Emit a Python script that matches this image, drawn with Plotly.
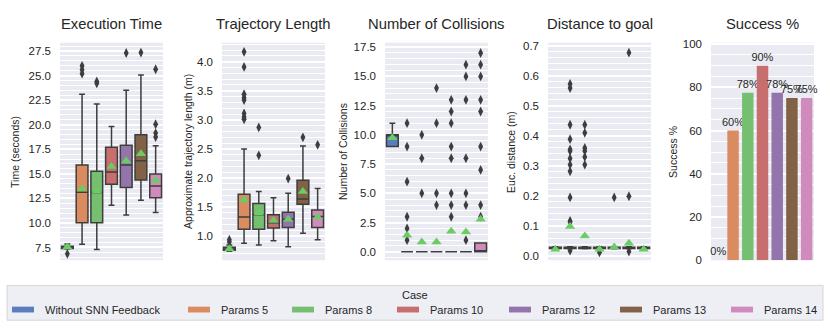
"""Boxplots des metriques par cas + barres de succes."""
import plotly.graph_objects as go
from plotly.subplots import make_subplots

W, H = 830, 332

CASES = ["Without SNN Feedback", "Params 5", "Params 8", "Params 10",
         "Params 12", "Params 13", "Params 14"]
COLORS = ["#597DBF", "#DA8B5F", "#76BF71", "#C76E6E",
          "#9475AB", "#826246", "#D08ABB"]
MEAN_COLOR = "#6ACC64"
LINE_COLOR = "#3D3D3D"
TEXT_COLOR = "#262626"
FONT = "Liberation Sans, Arial, sans-serif"

# Execution Time (s)
TIME_Q1 = [7.40, 10.02, 10.02, 13.94, 13.61, 14.36, 12.56]
TIME_MED = [7.50, 13.12, 13.10, 15.18, 15.90, 16.32, 13.77]
TIME_Q3 = [7.62, 15.90, 15.25, 17.70, 17.92, 18.97, 14.98]
TIME_LO = [7.35, 7.83, 7.30, 11.81, 10.80, 12.30, 11.06]
TIME_HI = [7.85, 23.09, 22.10, 19.82, 23.51, 25.05, 17.86]
TIME_MEAN = [7.55, 13.45, 13.28, 15.74, 16.30, 17.04, 14.33]
TIME_OUT = [[6.85], [25.2, 25.6, 26.0], [24.2, 24.4], [], [27.3], [27.35],
            [18.75, 19.15, 20.05, 25.65]]

# Trajectory length (m)
TRAJ_Q1 = [0.76, 1.12, 1.12, 1.14, 1.15, 1.55, 1.15]
TRAJ_MED = [0.78, 1.33, 1.37, 1.23, 1.29, 1.64, 1.34]
TRAJ_Q3 = [0.81, 1.72, 1.56, 1.37, 1.41, 1.96, 1.45]
TRAJ_LO = [0.74, 0.88, 0.85, 0.92, 0.82, 1.05, 0.94]
TRAJ_HI = [0.85, 2.50, 1.77, 1.66, 1.74, 2.55, 1.82]
TRAJ_MEAN = [0.78, 1.62, 1.40, 1.27, 1.29, 1.77, 1.33]
TRAJ_OUT = [[0.90, 0.94], [3.01, 3.05, 3.11, 3.34, 3.38, 3.44, 3.91, 4.17],
            [2.39, 2.87], [], [1.99], [2.70], [2.57]]

# Number of collisions
COLL_Q1 = [9.0, 0, 0, 0, 0, 0, 0]
COLL_MED = [10.0, 0, 0, 0, 0, 0, 0]
COLL_Q3 = [10.0, 0, 0, 0, 0, 0, 0.75]
COLL_LO = [9.0, 0, 0, 0, 0, 0, 0]
COLL_HI = [11.0, 0, 0, 0, 0, 0, 0.75]
COLL_MEAN = [9.75, 1.42, 0.85, 0.85, 1.77, 1.70, 2.79]
COLL_OUT = [[], [1, 2, 3, 6, 9, 11], [5, 8, 10], [4, 5, 11, 14],
            [3, 4, 5, 8, 9, 11, 12, 13], [1, 4, 5, 8, 13, 15, 16],
            [3, 4, 7, 9, 12, 13, 15, 16, 17]]

# Distance to goal (m)
DIST_Q1 = [0.025, 0.025, 0.025, 0.025, 0.025, 0.025, 0.025]
DIST_MED = [0.027, 0.027, 0.027, 0.027, 0.027, 0.027, 0.027]
DIST_Q3 = [0.029, 0.029, 0.029, 0.029, 0.029, 0.029, 0.029]
DIST_LO = [0.024, 0.024, 0.024, 0.024, 0.024, 0.024, 0.024]
DIST_HI = [0.031, 0.031, 0.031, 0.031, 0.031, 0.031, 0.031]
DIST_MEAN = [0.023, 0.098, 0.067, 0.023, 0.030, 0.043, 0.023]
DIST_OUT = [[], [0.018, 0.113, 0.117, 0.195, 0.282, 0.304, 0.325, 0.35,
                 0.355, 0.389, 0.437, 0.559, 0.573],
            [0.304, 0.33, 0.35, 0.36, 0.41, 0.437], [0.012], [0.195],
            [0.015, 0.199, 0.677], []]

# Success %
SUCCESS = [0, 60, 77.5, 90, 77.5, 75, 75]
SUCCESS_LABELS = ["0%", "60%", "78%", "90%", "78%", "75%", "75%"]

TITLES = ["Execution Time", "Trajectory Length", "Number of Collisions",
          "Distance to goal", "Success %"]
YLABELS = ["Time (seconds)", "Approximate trajectory length (m)",
           "Number of Collisions", "Euc. distance (m)", "Success %"]


def fx(px):
    return px / W


def fy(py):
    return 1 - py / H


fig = make_subplots(rows=1, cols=5)

box_panels = [
    (TIME_Q1, TIME_MED, TIME_Q3, TIME_LO, TIME_HI, TIME_MEAN, TIME_OUT),
    (TRAJ_Q1, TRAJ_MED, TRAJ_Q3, TRAJ_LO, TRAJ_HI, TRAJ_MEAN, TRAJ_OUT),
    (COLL_Q1, COLL_MED, COLL_Q3, COLL_LO, COLL_HI, COLL_MEAN, COLL_OUT),
    (DIST_Q1, DIST_MED, DIST_Q3, DIST_LO, DIST_HI, DIST_MEAN, DIST_OUT),
]

for col, (q1, med, q3, lo, hi, mean, out) in enumerate(box_panels, start=1):
    for i, case in enumerate(CASES):
        fig.add_trace(go.Box(
            x=[i], q1=[q1[i]], median=[med[i]], q3=[q3[i]],
            lowerfence=[lo[i]], upperfence=[hi[i]],
            width=0.8, whiskerwidth=0.5, boxpoints=False,
            fillcolor=COLORS[i], line=dict(color=LINE_COLOR, width=1.5),
            name=case, showlegend=False, hoverinfo="skip",
        ), row=1, col=col)
    ox, oy = [], []
    for i, vals in enumerate(out):
        ox += [i] * len(vals)
        oy += vals
    fig.add_trace(go.Scatter(
        x=ox, y=oy, mode="markers", showlegend=False,
        marker=dict(symbol="diamond-tall", size=7, color=LINE_COLOR),
    ), row=1, col=col)
    fig.add_trace(go.Scatter(
        x=list(range(len(CASES))), y=mean, mode="markers", showlegend=False,
        marker=dict(symbol="triangle-up", size=9, color=MEAN_COLOR),
    ), row=1, col=col)

fig.add_trace(go.Bar(
    x=list(range(len(CASES))), y=SUCCESS, width=0.78,
    marker=dict(color=COLORS, line=dict(width=0)),
    text=SUCCESS_LABELS, textposition="outside", constraintext="none",
    cliponaxis=False, textfont=dict(size=11, color=TEXT_COLOR),
    showlegend=False,
), row=1, col=5)

# positions des panneaux (px)
x_dom = [(60, 163), (222, 325), (385, 488), (548, 651), (711, 814)]
y_ranges = [[6.2, 28.35], [0.586, 4.326], [-0.72, 17.88], [-0.014, 0.71], [0, 100.6]]
dticks = [2.5, 0.5, 2.5, 0.1, 20]
minors = [0.5, 0.1, 0.5, 0.02, 5]
fmts = [".1f", ".1f", ".1f", ".1f", "d"]
ylab_x = [15, 188, 343, 511, 673]

for k in range(5):
    sfx = "" if k == 0 else str(k + 1)
    fig.layout["xaxis" + sfx].update(
        domain=[fx(x_dom[k][0]), fx(x_dom[k][1])], range=[-0.5, 6.5],
        showticklabels=False, showgrid=False, zeroline=False,
    )
    fig.layout["yaxis" + sfx].update(
        domain=[fy(264), fy(39)], range=y_ranges[k], dtick=dticks[k],
        tick0=0, tickformat=fmts[k], showgrid=True, gridcolor="white",
        gridwidth=1.5, zeroline=False, showline=False, ticks="",
        ticklabelstandoff=8,
        tickfont=dict(size=11.5, color=TEXT_COLOR),
        minor=dict(dtick=minors[k], tick0=0, showgrid=True,
                   gridcolor="white", gridwidth=0.7),
    )
    cx = (x_dom[k][0] + x_dom[k][1]) / 2
    fig.add_annotation(x=fx(cx), y=fy(20), xref="paper", yref="paper",
                       text=TITLES[k], showarrow=False, xanchor="center",
                       yanchor="middle",
                       font=dict(size=14.8, color=TEXT_COLOR))
    fig.add_annotation(x=fx(ylab_x[k]), y=fy(152), xref="paper", yref="paper",
                       text=YLABELS[k], showarrow=False, textangle=-90,
                       xanchor="center", yanchor="middle",
                       font=dict(size=10.5, color=TEXT_COLOR))

# legende dessinee a la main (mode "expand")
fig.add_shape(type="rect", xref="paper", yref="paper",
              x0=fx(7), x1=fx(823), y0=fy(326), y1=fy(290),
              fillcolor="#EEEEF5", line=dict(color="#D6D6D6", width=1))
fig.add_annotation(x=fx(415), y=fy(300), xref="paper", yref="paper",
                   text="Case", showarrow=False, xanchor="center",
                   yanchor="middle", font=dict(size=11, color=TEXT_COLOR))
patch_left = [12, 188, 292, 397, 509, 620, 731]
for i, case in enumerate(CASES):
    px0 = patch_left[i]
    fig.add_shape(type="rect", xref="paper", yref="paper",
                  x0=fx(px0), x1=fx(px0 + 22), y0=fy(318), y1=fy(312),
                  fillcolor=COLORS[i], line=dict(width=0))
    fig.add_annotation(x=fx(px0 + 31), y=fy(315), xref="paper", yref="paper",
                       text=case, showarrow=False, xanchor="left",
                       yanchor="middle", font=dict(size=11, color=TEXT_COLOR))

fig.update_layout(
    width=W, height=H, margin=dict(l=0, r=0, t=0, b=0),
    plot_bgcolor="#EAEAF2", paper_bgcolor="white",
    font=dict(family=FONT, color=TEXT_COLOR),
    boxmode="overlay", showlegend=False,
)

# pas de marge ni de barre de defilement autour du graphique
page_fix = ("document.documentElement.style.overflow='hidden';"
            "document.body.style.margin='0';"
            "document.body.style.overflow='hidden';")
fig.write_html("out.html", config={"displayModeBar": False},
               post_script=page_fix)
